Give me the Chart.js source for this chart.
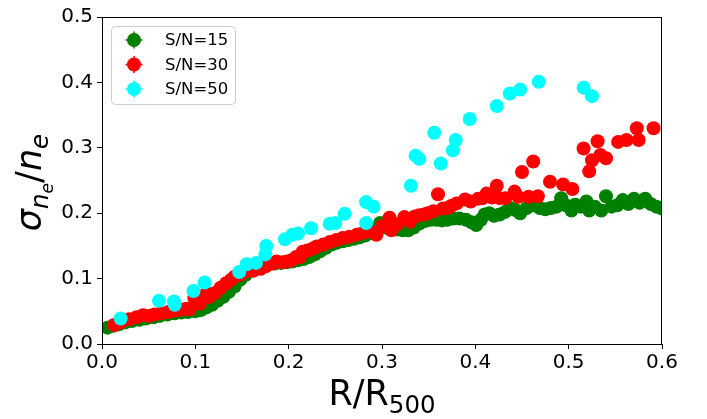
<!DOCTYPE html>
<html>
<head>
<meta charset="utf-8">
<script src="https://cdn.jsdelivr.net/npm/chart.js@4.4.0/dist/chart.umd.min.js"></script>
<style>
html, body { margin: 0; padding: 0; background: #fff; }
#chart { display: block; }
</style>
</head>
<body>
<canvas id="chart" width="707" height="419"></canvas>
<script>
'use strict'
// S/N=15 (green)
const sn15X = [0.006,0.012,0.018,0.025,0.032,0.040,0.047,0.055,0.062,0.070,
  0.078,0.085,0.092,0.100,0.106,0.112,0.118,0.124,0.130,0.136,
  0.142,0.148,0.154,0.160,0.166,0.172,0.178,0.185,0.192,0.198,
  0.204,0.210,0.216,0.222,0.228,0.234,0.240,0.246,0.252,0.258,
  0.264,0.270,0.276,0.282,0.288,0.294,0.298,0.304,0.310,0.316,
  0.322,0.328,0.334,0.340,0.346,0.352,0.358,0.364,0.370,0.376,
  0.383,0.390,0.396,0.401,0.406,0.410,0.415,0.420,0.426,0.432,
  0.437,0.443,0.448,0.455,0.462,0.469,0.475,0.481,0.487,0.492,
  0.497,0.503,0.507,0.513,0.519,0.522,0.528,0.535,0.540,0.546,
  0.552,0.558,0.564,0.570,0.576,0.582,0.588,0.594,0.600];
const sn15Y = [0.025,0.028,0.030,0.033,0.035,0.037,0.039,0.041,0.043,0.045,
  0.047,0.048,0.049,0.050,0.052,0.056,0.060,0.066,0.072,0.080,
  0.088,0.098,0.106,0.114,0.118,0.120,0.122,0.123,0.124,0.125,
  0.126,0.128,0.130,0.133,0.137,0.142,0.147,0.152,0.155,0.157,
  0.159,0.161,0.163,0.166,0.170,0.175,0.185,0.178,0.176,0.175,
  0.174,0.174,0.178,0.184,0.188,0.190,0.190,0.189,0.190,0.192,
  0.192,0.190,0.186,0.182,0.190,0.198,0.200,0.196,0.198,0.202,
  0.208,0.205,0.200,0.208,0.212,0.208,0.206,0.208,0.210,0.223,
  0.212,0.204,0.213,0.210,0.218,0.204,0.210,0.204,0.226,0.210,
  0.212,0.220,0.214,0.222,0.216,0.222,0.214,0.210,0.207];

// S/N=30 (red)
const sn30X = [0.013,0.020,0.029,0.037,0.044,0.050,0.056,0.063,0.071,0.077,
  0.083,0.090,0.094,0.099,0.105,0.112,0.115,0.121,0.127,0.133,
  0.138,0.142,0.148,0.155,0.162,0.170,0.176,0.183,0.187,0.193,
  0.198,0.203,0.208,0.212,0.215,0.220,0.226,0.230,0.237,0.244,
  0.251,0.258,0.265,0.273,0.280,0.287,0.294,0.300,0.308,0.310,
  0.316,0.324,0.330,0.335,0.340,0.345,0.349,0.355,0.360,0.365,
  0.370,0.374,0.380,0.389,0.395,0.403,0.408,0.412,0.418,0.423,
  0.426,0.432,0.442,0.446,0.450,0.457,0.462,0.467,0.480,0.494,
  0.504,0.516,0.522,0.525,0.531,0.534,0.540,0.553,0.562,0.573,0.575,0.591];
const sn30Y = [0.029,0.033,0.038,0.041,0.044,0.043,0.045,0.047,0.049,0.051,
  0.052,0.054,0.053,0.070,0.062,0.078,0.072,0.078,0.086,0.093,
  0.098,0.103,0.106,0.111,0.112,0.115,0.119,0.123,0.126,0.125,
  0.126,0.128,0.133,0.133,0.141,0.143,0.146,0.149,0.152,0.156,
  0.159,0.162,0.164,0.167,0.170,0.172,0.167,0.180,0.193,0.174,
  0.183,0.194,0.187,0.195,0.197,0.198,0.200,0.203,0.229,0.207,
  0.208,0.211,0.215,0.221,0.218,0.222,0.223,0.230,0.224,0.242,
  0.223,0.223,0.233,0.225,0.263,0.225,0.279,0.226,0.248,0.244,
  0.237,0.299,0.264,0.281,0.310,0.289,0.284,0.309,0.312,0.330,0.312,0.330];

// S/N=50 (cyan)
const sn50X = [0.020,0.061,0.077,0.078,0.098,0.110,0.147,0.155,0.165,0.175,
  0.176,0.196,0.204,0.210,0.224,0.244,0.250,0.260,0.283,0.291,
  0.283,0.331,0.336,0.340,0.356,0.363,0.376,0.379,0.394,0.423,
  0.437,0.448,0.468,0.516,0.525];
const sn50Y = [0.039,0.066,0.065,0.060,0.081,0.094,0.110,0.122,0.124,0.137,
  0.150,0.160,0.167,0.169,0.177,0.184,0.185,0.199,0.217,0.210,
  0.185,0.242,0.288,0.283,0.323,0.276,0.296,0.312,0.344,0.364,
  0.383,0.389,0.401,0.392,0.379];

const seriesNames = ['S/N=15', 'S/N=30', 'S/N=50'];
const seriesColors = ['#008000', '#ff0000', '#00ffff'];

const toPoints = (xs, ys) => xs.map((x, i) => ({x: x, y: ys[i]}));

const FONT = '"DejaVu Sans", sans-serif';

// box, legend and axis titles (matplotlib style)
const decorations = {
    id: 'decorations',
    afterDatasetsDraw(chart) {
        const ctx = chart.ctx;
        const a = chart.chartArea;
        ctx.save();
        ctx.strokeStyle = '#000';
        ctx.lineWidth = 1;
        ctx.strokeRect(Math.round(a.left) + 0.5, Math.round(a.top) + 0.5,
            Math.round(a.right - a.left) - 1, Math.round(a.bottom - a.top));
        ctx.restore();
    },
    afterDraw(chart) {
        const ctx = chart.ctx;
        const a = chart.chartArea;
        ctx.save();

        // legend
        const bx = 111.5, by = 26.5, bw = 124, bh = 78;
        ctx.beginPath();
        ctx.roundRect(bx, by, bw, bh, 4);
        ctx.fillStyle = 'rgba(255,255,255,0.8)';
        ctx.fill();
        ctx.strokeStyle = '#cccccc';
        ctx.lineWidth = 1;
        ctx.stroke();
        const rows = [40, 64.5, 89];
        ctx.font = '16.5px ' + FONT;
        ctx.textBaseline = 'middle';
        ctx.textAlign = 'left';
        seriesNames.forEach((name, i) => {
            const mx = 134, my = rows[i];
            ctx.fillStyle = seriesColors[i];
            ctx.strokeStyle = seriesColors[i];
            ctx.lineWidth = 1.5;
            ctx.beginPath();
            ctx.moveTo(mx - 8.5, my); ctx.lineTo(mx + 8.5, my);
            ctx.moveTo(mx, my - 8.5); ctx.lineTo(mx, my + 8.5);
            ctx.stroke();
            ctx.beginPath();
            ctx.arc(mx, my, 7, 0, Math.PI * 2);
            ctx.fill();
            ctx.fillStyle = '#000';
            ctx.fillText(name, 165, my + 1);
        });

        // x title: R/R_500
        const F = 35;
        ctx.fillStyle = '#000';
        ctx.textBaseline = 'alphabetic';
        ctx.font = F + 'px ' + FONT;
        const w1 = ctx.measureText('R/R').width;
        ctx.font = (F * 0.7) + 'px ' + FONT;
        const w2 = ctx.measureText('500').width;
        const cx = (a.left + a.right) / 2;
        let x0 = cx - (w1 + w2) / 2;
        ctx.font = F + 'px ' + FONT;
        ctx.fillText('R/R', x0, 405);
        ctx.font = (F * 0.7) + 'px ' + FONT;
        ctx.fillText('500', x0 + w1, 405 + F * 0.22);

        // y title: sigma_{n_e}/n_e
        const G = 35;
        const parts = [
            {t: 'σ', s: G, dy: 0, it: true},
            {t: 'n', s: G * 0.7, dy: G * 0.2, it: true},
            {t: 'e', s: G * 0.49, dy: G * 0.33, it: true},
            {t: '/', s: G, dy: 0, it: false},
            {t: 'n', s: G, dy: 0, it: true},
            {t: 'e', s: G * 0.7, dy: G * 0.2, it: true}
        ];
        let total = 0;
        parts.forEach(p => {
            ctx.font = (p.it ? 'italic ' : '') + p.s + 'px ' + FONT;
            p.w = ctx.measureText(p.t).width;
            total += p.w;
        });
        ctx.translate(41, (a.top + a.bottom) / 2 + 2);
        ctx.rotate(-Math.PI / 2);
        let px = -total / 2;
        parts.forEach(p => {
            ctx.font = (p.it ? 'italic ' : '') + p.s + 'px ' + FONT;
            ctx.fillText(p.t, px, p.dy);
            px += p.w;
        });
        ctx.restore();
    }
};

const tickStyle = {color: '#000', font: {size: 20, family: FONT}};

const chart = new Chart(document.getElementById('chart'), {
    type: 'scatter',
    data: {
        datasets: [
            {label: seriesNames[0], data: toPoints(sn15X, sn15Y), backgroundColor: seriesColors[0], order: 3},
            {label: seriesNames[1], data: toPoints(sn30X, sn30Y), backgroundColor: seriesColors[1], order: 2},
            {label: seriesNames[2], data: toPoints(sn50X, sn50Y), backgroundColor: seriesColors[2], order: 1}
        ].map(d => Object.assign(d, {pointRadius: 7, borderWidth: 0, pointHoverRadius: 7, clip: 0}))
    },
    options: {
        responsive: false,
        animation: false,
        devicePixelRatio: 1,
        layout: {padding: {top: 17, right: 45, left: 0, bottom: 0}},
        plugins: {legend: {display: false}, tooltip: {enabled: false}},
        scales: {
            x: {
                type: 'linear', min: 0, max: 0.6,
                afterFit(s) { s.height = 75; },
                ticks: Object.assign({stepSize: 0.1, maxRotation: 0, padding: 2,
                    callback: v => v.toFixed(1)}, tickStyle),
                grid: {drawOnChartArea: false, tickLength: 5, color: '#000'},
                border: {color: '#000'}
            },
            y: {
                type: 'linear', min: 0, max: 0.5,
                afterFit(s) { s.width = 102; },
                ticks: Object.assign({stepSize: 0.1, padding: 4,
                    callback: v => v.toFixed(1)}, tickStyle),
                grid: {drawOnChartArea: false, tickLength: 5, color: '#000'},
                border: {color: '#000'}
            }
        }
    },
    plugins: [decorations]
});
</script>
</body>
</html>
